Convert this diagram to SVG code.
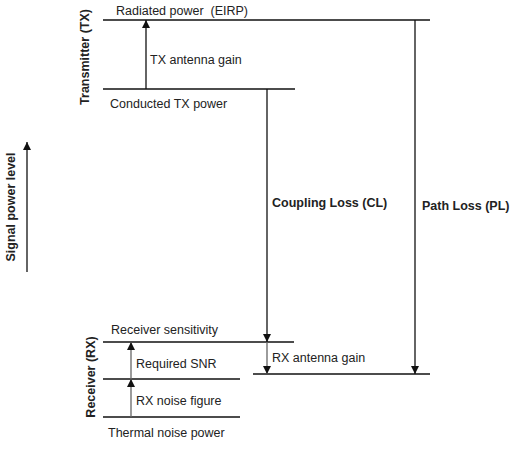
<svg xmlns="http://www.w3.org/2000/svg" width="519" height="449" viewBox="0 0 519 449">
<style>
.t{font-family:"Liberation Sans",Arial,sans-serif;font-size:12.5px;fill:#222}
.b{font-family:"Liberation Sans",Arial,sans-serif;font-size:12.5px;font-weight:bold;fill:#222}
.l{stroke:#111;stroke-width:1.3;fill:none}
.g{stroke:#666;stroke-width:1.3;fill:none}
</style>
<defs>
<marker id="ah" viewBox="0 0 10 10" refX="10" refY="5" markerWidth="10" markerHeight="8" markerUnits="userSpaceOnUse" orient="auto">
<path d="M0,0 L10,5 L0,10 z" fill="#111"/>
</marker>
</defs>
<g id="levels">
<g id="eirp"><line class="l" x1="103" y1="20" x2="430" y2="20"/><text class="t" x="116" y="15" xml:space="preserve">Radiated power  (EIRP)</text></g>
<g id="conducted"><line class="l" x1="103" y1="89" x2="295" y2="89"/><text class="t" x="110" y="108">Conducted TX power</text></g>
<g id="sensitivity"><line class="l" x1="103" y1="342" x2="294" y2="342"/><text class="t" x="111" y="334">Receiver sensitivity</text></g>
<g id="snrline"><line class="l" x1="103" y1="379" x2="240" y2="379"/></g>
<g id="thermal"><line class="l" x1="103" y1="417" x2="240" y2="417"/><text class="t" x="108" y="437">Thermal noise power</text></g>
<g id="rxlevel"><line class="l" x1="253" y1="374" x2="430" y2="374"/></g>
</g>
<g id="labels">
<text class="b" transform="translate(89,57) rotate(-90)" text-anchor="middle">Transmitter (TX)</text>
<text class="b" transform="translate(95,377) rotate(-90)" text-anchor="middle">Receiver (RX)</text>
<text class="b" transform="translate(15,207) rotate(-90)" text-anchor="middle">Signal power level</text>
<text class="t" x="150" y="64">TX antenna gain</text>
<text class="b" x="272" y="207">Coupling Loss (CL)</text>
<text class="b" x="422" y="210">Path Loss (PL)</text>
<text class="t" x="136" y="368">Required SNR</text>
<text class="t" x="272" y="362">RX antenna gain</text>
<text class="t" x="136" y="405">RX noise figure</text>
</g>
<g id="connectors">
<line class="l" x1="146" y1="89" x2="146" y2="20" marker-end="url(#ah)"/>
<line class="l" x1="267" y1="89" x2="267" y2="342" marker-end="url(#ah)"/>
<line class="l" x1="415" y1="20" x2="415" y2="374" marker-end="url(#ah)"/>
<line class="g" x1="267" y1="342" x2="267" y2="374" marker-end="url(#ah)"/>
<line class="g" x1="131" y1="417" x2="131" y2="379" marker-end="url(#ah)"/>
<line class="g" x1="131" y1="379" x2="131" y2="342" marker-end="url(#ah)"/>
<line class="l" x1="27" y1="272" x2="27" y2="142" marker-end="url(#ah)"/>
</g>
</svg>
